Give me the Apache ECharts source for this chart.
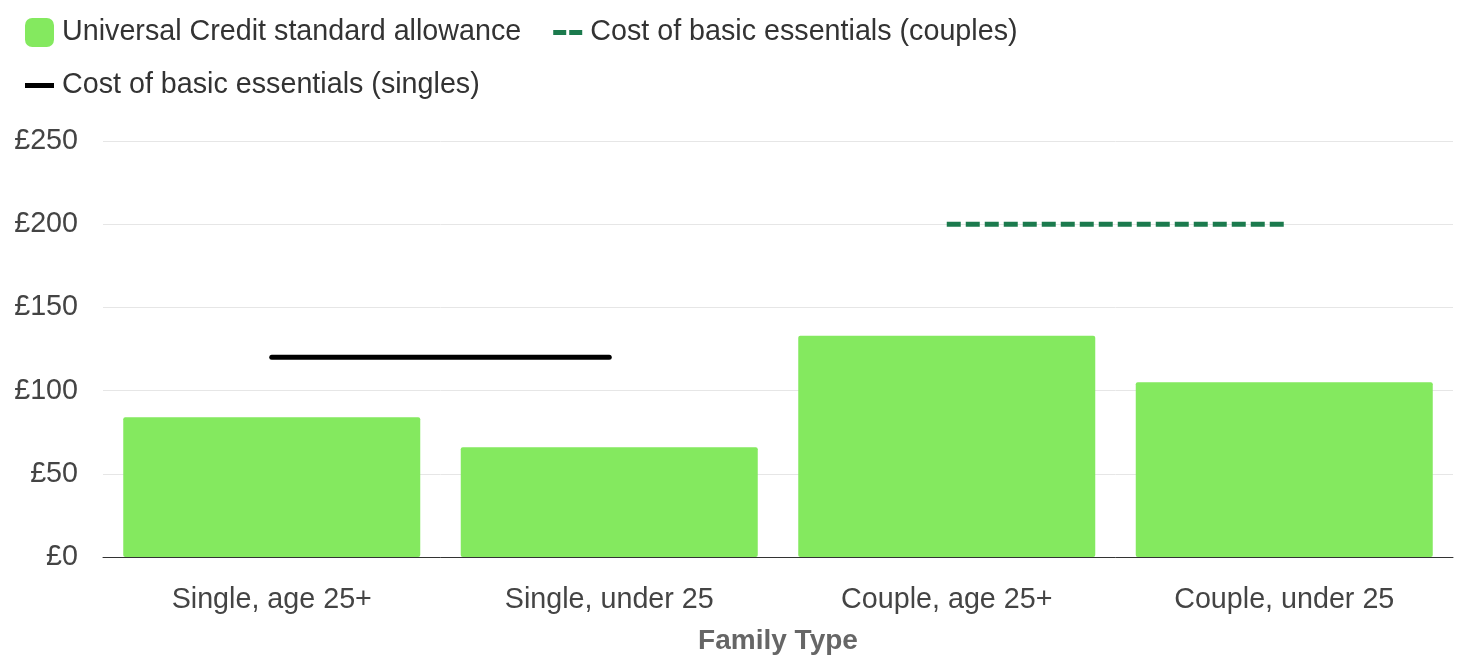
<!DOCTYPE html>
<html>
<head>
<meta charset="utf-8">
<script src="https://cdn.jsdelivr.net/npm/echarts@6/dist/echarts.min.js"></script>
<style>
  html, body { margin: 0; padding: 0; background: #fff; }
  #chart { width: 1460px; height: 663px; }
</style>
</head>
<body>
<div id="chart"></div>
<script>
// weekly amounts
const familyTypes = ['Single, age 25+', 'Single, under 25', 'Couple, age 25+', 'Couple, under 25'];
const allowance = [84, 66, 133, 105];
const singlesCost = [120, 120, null, null];
const couplesCost = [null, null, 200, 200];
const yTicks = { min: 0, max: 250, interval: 50 };

const font = '"Liberation Sans", Arial, sans-serif';
const txt = 28.7;

const chart = echarts.init(document.getElementById('chart'));

const option = {
  animation: false,
  textStyle: { fontFamily: font },
  legend: {
    left: 20,
    top: 13,
    itemWidth: 29,
    itemHeight: 29,
    itemGap: 24,
    textStyle: {
      fontSize: txt,
      color: '#333',
      fontFamily: font,
      lineHeight: 24,
      padding: [0, 8, 0, 3]
    },
    data: [
      { name: 'Universal Credit standard allowance', icon: 'roundRect' },
      { name: 'Cost of basic essentials (couples)', icon: 'path://M0,0H13V5H0Z M16,0H29V5H16Z' },
      { name: 'Cost of basic essentials (singles)', icon: 'path://M0,0H29V5H0Z' }
    ]
  },
  grid: { left: 103, right: 7, top: 141, bottom: 106 },
  xAxis: {
    type: 'category',
    data: familyTypes,
    name: 'Family Type',
    nameLocation: 'middle',
    nameGap: 70,
    nameTextStyle: { fontSize: 28, fontWeight: 'bold', color: '#666', fontFamily: font },
    axisLine: { lineStyle: { color: '#333', width: 1 } },
    axisTick: { show: false },
    axisLabel: { fontSize: txt, color: '#444', margin: 29, fontFamily: font }
  },
  yAxis: {
    type: 'value',
    min: yTicks.min,
    max: yTicks.max,
    interval: yTicks.interval,
    axisLine: { show: false },
    axisTick: { show: false },
    axisLabel: { fontSize: txt, color: '#444', margin: 25, formatter: '£{value}', fontFamily: font },
    splitLine: { lineStyle: { color: '#e6e6e6', width: 1 } }
  },
  series: [
    {
      name: 'Universal Credit standard allowance',
      type: 'bar',
      data: allowance,
      barCategoryGap: '12%',
      itemStyle: { color: '#84e95f', borderRadius: 2 }
    },
    {
      name: 'Cost of basic essentials (couples)',
      type: 'line',
      data: couplesCost,
      symbol: 'none',
      connectNulls: false,
      lineStyle: { color: '#1b7a4d', width: 5, type: [14, 5] },
      itemStyle: { color: '#1b7a4d' }
    },
    {
      name: 'Cost of basic essentials (singles)',
      type: 'line',
      data: singlesCost,
      symbol: 'none',
      connectNulls: false,
      lineStyle: { color: '#000', width: 5, cap: 'round' },
      itemStyle: { color: '#000' }
    }
  ]
};

chart.setOption(option);
</script>
</body>
</html>
